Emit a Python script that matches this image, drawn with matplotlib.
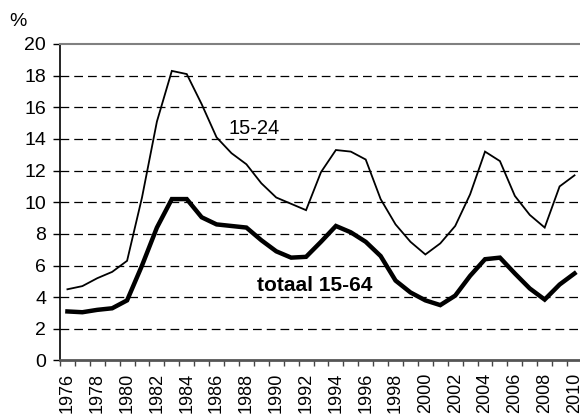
import numpy as np
import matplotlib
matplotlib.use("Agg")
import matplotlib.pyplot as plt

plt.rcParams['font.family'] = ['Liberation Sans', 'DejaVu Sans']

years = list(range(1976, 2011))
jeugd = [4.5, 4.7, 5.2, 5.6, 6.3, 10.3, 15.1, 18.3, 18.1, 16.2,
         14.1, 13.1, 12.4, 11.2, 10.3, 9.9, 9.5, 11.9, 13.3, 13.2,
         12.7, 10.2, 8.6, 7.5, 6.7, 7.4, 8.5, 10.5, 13.2, 12.6,
         10.4, 9.2, 8.4, 11.0, 11.7]
totaal = [3.1, 3.05, 3.2, 3.3, 3.8, 6.0, 8.4, 10.2, 10.2, 9.05,
          8.6, 8.5, 8.4, 7.6, 6.9, 6.5, 6.55, 7.5, 8.5, 8.1,
          7.5, 6.6, 5.05, 4.3, 3.8, 3.5, 4.1, 5.35, 6.4, 6.5,
          5.5, 4.55, 3.85, 4.8, 5.5]
yticks = list(range(0, 21, 2))

fig = plt.figure(figsize=(5.8, 4.17), dpi=100)
ax = fig.add_axes([0.1034, 0.1355, 0.9, 0.759])

x = np.arange(len(years))
ax.plot(x, jeugd, color='black', lw=1.3, solid_joinstyle='miter',
        clip_on=False)
ax.plot(x, totaal, color='black', lw=3.2, solid_joinstyle='miter',
        clip_on=False)

ax.set_xlim(-0.5, len(years) - 0.5)
ax.set_ylim(0, 20)

for v in yticks[1:-1]:
    ax.axhline(v, color='black', lw=0.9, ls=(0, (7, 4)), zorder=0)

ax.set_yticks(yticks)
ax.set_yticklabels([str(v) for v in yticks], fontsize=14)
ax.tick_params(axis='y', direction='out', length=5, width=1, pad=5)

ax.set_xticks(x[::2])
ax.set_xticklabels([str(y) for y in years[::2]], rotation=90, fontsize=13)
ax.set_xticks(np.arange(len(years) + 1) - 0.5, minor=True)
ax.tick_params(axis='x', which='major', length=0, pad=9)
ax.tick_params(axis='x', which='minor', direction='out', length=4,
               width=1, color='#444444')

ax.spines['right'].set_visible(False)
ax.spines['top'].set_color('#808080')
ax.spines['top'].set_linewidth(1.5)
ax.spines['bottom'].set_color('#555555')
ax.spines['bottom'].set_linewidth(2)
ax.spines['left'].set_linewidth(1.2)

ax.text(10.8, 14.3, '15-24', fontsize=14.5, ha='left', va='baseline')
ax.text(12.71, 4.36, 'totaal 15-64', fontsize=15, fontweight='bold',
        ha='left', va='baseline')
fig.text(0.016, 0.9376, '%', fontsize=14, ha='left', va='baseline')

fig.savefig('out.png', dpi=100)
